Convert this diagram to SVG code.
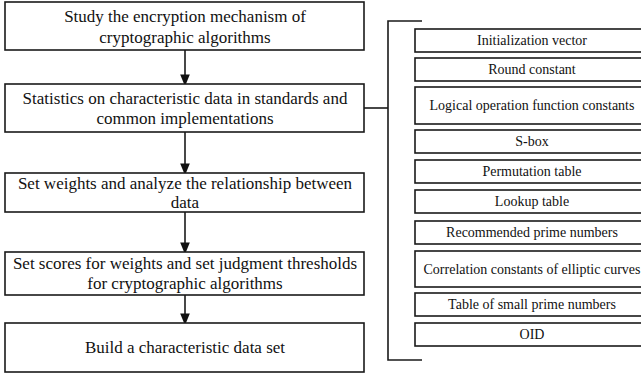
<svg xmlns="http://www.w3.org/2000/svg" width="641" height="374" viewBox="0 0 641 374">
<style>
.box{fill:#fff;stroke:#1a1a1a;stroke-width:1.6}
.t{font-family:"Liberation Serif","Times New Roman",serif;font-size:17px;fill:#111;text-anchor:middle}
.s{font-family:"Liberation Serif","Times New Roman",serif;font-size:14px;fill:#111;text-anchor:middle}
.ln{fill:none;stroke:#1a1a1a;stroke-width:1.6}
</style>
<defs>
<marker id="ah" markerWidth="12" markerHeight="15" refX="12" refY="6" orient="auto" markerUnits="userSpaceOnUse" viewBox="0 0 15 12">
<path d="M0,0 L15,6 L0,12 Z" fill="#111"/>
</marker>
</defs>
<rect width="641" height="374" fill="#fff"/>
<g id="connectors">
<path class="ln" d="M185,50 V84" marker-end="url(#ah)"/>
<path class="ln" d="M185,132 V173" marker-end="url(#ah)"/>
<path class="ln" d="M185,212 V252" marker-end="url(#ah)"/>
<path class="ln" d="M185,295 V323" marker-end="url(#ah)"/>
<path class="ln" d="M364,108 H388"/>
<path class="ln" d="M422,21 H388 V360 H422"/>
</g>
<g id="n1"><rect class="box" x="5" y="2" width="359" height="48"/><text class="t" x="185" y="22">Study the encryption mechanism of</text><text class="t" x="185" y="43">cryptographic algorithms</text></g>
<g id="n2"><rect class="box" x="5" y="84" width="359" height="48"/><text class="t" x="185" y="104">Statistics on characteristic data in standards and</text><text class="t" x="185" y="124">common implementations</text></g>
<g id="n3"><rect class="box" x="5" y="173" width="359" height="39"/><text class="t" x="185" y="189">Set weights and analyze the relationship between</text><text class="t" x="185" y="208">data</text></g>
<g id="n4"><rect class="box" x="5" y="252" width="359" height="43"/><text class="t" x="185" y="269">Set scores for weights and set judgment thresholds</text><text class="t" x="185" y="289">for cryptographic algorithms</text></g>
<g id="n5"><rect class="box" x="5" y="323" width="359" height="49"/><text class="t" x="185" y="353">Build a characteristic data set</text></g>
<g id="r1"><rect class="box" x="415" y="29" width="235" height="23"/><text class="s" x="532" y="45.3">Initialization vector</text></g>
<g id="r2"><rect class="box" x="415" y="58" width="235" height="23"/><text class="s" x="532" y="74.3">Round constant</text></g>
<g id="r3"><rect class="box" x="415" y="87" width="235" height="37"/><text class="s" x="532" y="110.3">Logical operation function constants</text></g>
<g id="r4"><rect class="box" x="415" y="130" width="235" height="23"/><text class="s" x="532" y="146.3">S-box</text></g>
<g id="r5"><rect class="box" x="415" y="160" width="235" height="23"/><text class="s" x="532" y="176.3">Permutation table</text></g>
<g id="r6"><rect class="box" x="415" y="190" width="235" height="23"/><text class="s" x="532" y="206.3">Lookup table</text></g>
<g id="r7"><rect class="box" x="415" y="221" width="235" height="23"/><text class="s" x="532" y="237.3">Recommended prime numbers</text></g>
<g id="r8"><rect class="box" x="415" y="251" width="235" height="36"/><text class="s" x="532" y="273.8">Correlation constants of elliptic curves</text></g>
<g id="r9"><rect class="box" x="415" y="293" width="235" height="23"/><text class="s" x="532" y="309.3">Table of small prime numbers</text></g>
<g id="r10"><rect class="box" x="415" y="323" width="235" height="23"/><text class="s" x="532" y="339.3">OID</text></g>
</svg>
